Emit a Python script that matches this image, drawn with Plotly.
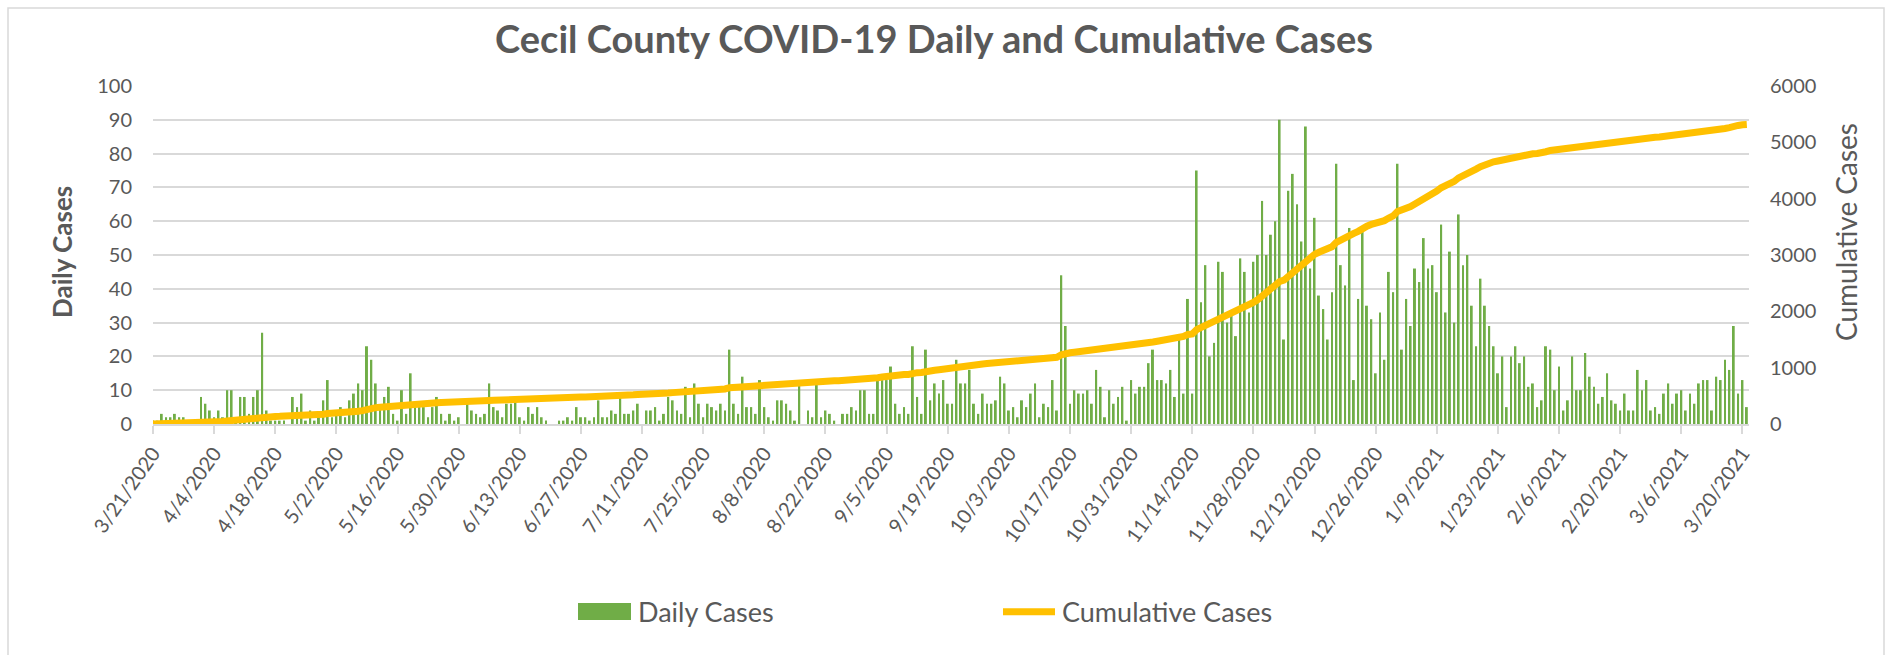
import plotly.graph_objects as go
import pandas as pd
from itertools import accumulate

# ---------------- data ----------------
start_date = "2020-03-21"

daily_cases = [
    1, 1, 3, 2, 2, 3, 2, 2, 1, 0, 1, 8, 6, 4, 2, 4, 2, 10, 10, 1, 8, 8, 3, 8, 10, 27,
    4, 1, 1, 1, 1, 0, 8, 5, 9, 1, 4, 1, 2, 7, 13, 2, 3, 5, 2, 7,
    9, 12, 10, 23, 19, 12, 5, 8, 11, 3, 1, 10, 3, 15, 5, 5, 5, 2, 5, 8, 3, 1, 3, 1, 2, 0,
    6, 4, 3, 2, 3, 12, 5, 4, 2, 6, 6, 7, 2, 1, 5, 3, 5, 2, 1,
    0, 0, 1, 1, 2, 1, 5, 2, 2, 1, 2, 7, 2, 2, 4, 3, 8, 3, 3, 4, 6, 0, 4, 4, 5, 1, 3, 8,
    7, 4, 3, 11, 2, 12, 6, 2, 6, 5, 4, 6, 4, 22, 6, 3, 14, 5,
    5, 3, 13, 5, 2, 1, 7, 7, 6, 4, 1, 12, 0, 4, 2, 12, 2, 4, 3, 1, 0, 3, 3, 5, 4, 10, 10,
    3, 3, 13, 13, 13, 17, 6, 3, 5, 3, 23, 8, 3, 22, 7, 12, 9, 13, 6,
    6, 19, 12, 12, 16, 6, 3, 9, 6, 6, 7, 14, 12, 4, 5, 2, 7, 5, 9, 12, 2, 6, 5, 13, 4, 44,
    29, 6, 10, 9, 9, 10, 6, 16, 11, 2, 10, 6, 8, 11, 1, 13, 9, 11, 11, 18,
    22, 13, 13, 12, 16, 8, 25, 9, 37, 9, 75, 36, 47, 20, 24, 48, 45, 30, 32, 26, 49, 45,
    33, 48, 50, 66, 50, 56, 60, 90, 25, 69, 74, 65, 54, 88, 46, 61, 38, 34, 25, 39, 77, 47, 41, 58,
    13, 37, 57, 35, 31, 15, 33, 19, 45, 39, 77, 22, 37, 29, 46, 42, 55, 46, 47, 39, 59, 33,
    51, 30, 62, 47, 50, 35, 23, 43, 35, 29, 23, 15, 20, 5, 20, 23, 18, 20, 11, 12, 5, 7, 23,
    22, 10, 17, 4, 7, 20, 10, 10, 21, 14, 11, 6, 8, 15, 7, 6, 4, 9, 4, 4, 16, 10, 13, 4,
    5, 3, 9, 12, 6, 9, 10, 4, 9, 6, 12, 13, 13, 4, 14, 13, 19, 16, 29, 9, 13, 5,
]

tick_labels = [
    "3/21/2020", "4/4/2020", "4/18/2020", "5/2/2020", "5/16/2020", "5/30/2020",
    "6/13/2020", "6/27/2020", "7/11/2020", "7/25/2020", "8/8/2020", "8/22/2020",
    "9/5/2020", "9/19/2020", "10/3/2020", "10/17/2020", "10/31/2020", "11/14/2020",
    "11/28/2020", "12/12/2020", "12/26/2020", "1/9/2021", "1/23/2021", "2/6/2021",
    "2/20/2021", "3/6/2021", "3/20/2021",
]
left_ticks = list(range(0, 101, 10))
right_ticks = list(range(0, 6001, 1000))

title_text = "Cecil County COVID-19 Daily and Cumulative Cases"
left_title = "Daily Cases"
right_title = "Cumulative Cases"
bar_name = "Daily Cases"
line_name = "Cumulative Cases"

dates = pd.date_range(start_date, periods=len(daily_cases), freq="D")
cumulative_cases = list(accumulate(daily_cases))
tick_dates = pd.to_datetime(tick_labels, format="%m/%d/%Y")

# ---------------- layout geometry (pixels) ----------------
W, H = 1892, 655
PL, PR, PT, PB = 153, 1749, 86, 424
PW, PH = PR - PL, PB - PT


def px_x(x):
    return (x - PL) / PW


def px_y(y):
    return (PB - y) / PH


GRAY = "#595959"
GRID = "#D9D9D9"
GREEN = "#70AD47"
GOLD = "#FFC000"
FONT = "Lato, 'Open Sans', sans-serif"

fig = go.Figure()
fig.add_trace(go.Bar(x=dates, y=daily_cases, name=bar_name,
                     marker=dict(color=GREEN, line=dict(width=0)), yaxis="y"))
fig.add_trace(go.Scatter(x=dates, y=cumulative_cases, name=line_name, mode="lines",
                         line=dict(color=GOLD, width=7), yaxis="y2"))

fig.update_layout(
    width=W, height=H, autosize=False,
    margin=dict(l=PL, r=W - PR, t=PT, b=H - PB, pad=0),
    paper_bgcolor="white", plot_bgcolor="white",
    showlegend=False,
    bargap=0.55,
    font=dict(family=FONT, color=GRAY, size=20),
    title=dict(text="<b>" + title_text + "</b>", xref="container", yref="container",
               x=934 / W, y=1 - 40 / H, xanchor="center", yanchor="middle",
               font=dict(size=38, color=GRAY, family=FONT)),
    xaxis=dict(type="date", range=["2020-03-21 00:00", "2021-03-21 12:00"],
               tickmode="array", tickvals=tick_dates, ticktext=tick_labels,
               tickangle=-55, ticks="outside", ticklen=8, tickcolor=GRID, tickwidth=1.5,
               showline=True, linecolor=GRID, linewidth=1.5, showgrid=False,
               zeroline=False, tickfont=dict(size=20, color=GRAY)),
    yaxis=dict(range=[0, 100], tickmode="array", tickvals=left_ticks,
               showgrid=True, gridcolor=GRID, gridwidth=1.5, zeroline=False,
               showline=False, ticks="", ticklabelstandoff=20,
               tickfont=dict(size=20, color=GRAY)),
    yaxis2=dict(range=[0, 6000], overlaying="y", side="right", tickmode="array",
                tickvals=right_ticks, showgrid=False, zeroline=False, showline=False,
                ticks="", ticklabelstandoff=20, tickfont=dict(size=20, color=GRAY)),
)

# axis titles
fig.add_annotation(x=px_x(62), y=px_y(252), xref="paper", yref="paper",
                   text="<b>" + left_title + "</b>", textangle=-90, showarrow=False,
                   xanchor="center", yanchor="middle",
                   font=dict(size=26, color=GRAY, family=FONT))
fig.add_annotation(x=px_x(1846), y=px_y(232), xref="paper", yref="paper",
                   text=right_title, textangle=-90, showarrow=False,
                   xanchor="center", yanchor="middle",
                   font=dict(size=28, color=GRAY, family=FONT))

# outer chart border
fig.add_shape(type="rect", xref="paper", yref="paper",
              x0=px_x(8), x1=px_x(1884), y0=px_y(670), y1=px_y(8),
              line=dict(color=GRID, width=1.5), fillcolor="rgba(0,0,0,0)", layer="below")

# custom legend
fig.add_shape(type="rect", xref="paper", yref="paper",
              x0=px_x(578), x1=px_x(631), y0=px_y(620), y1=px_y(603),
              line=dict(width=0), fillcolor=GREEN)
fig.add_annotation(x=px_x(636), y=px_y(611.5), xref="paper", yref="paper",
                   text=bar_name, showarrow=False, xanchor="left", yanchor="middle",
                   font=dict(size=27, color=GRAY, family=FONT))
fig.add_shape(type="line", xref="paper", yref="paper",
              x0=px_x(1003), x1=px_x(1055), y0=px_y(611.7), y1=px_y(611.7),
              line=dict(color=GOLD, width=7))
fig.add_annotation(x=px_x(1060), y=px_y(611.5), xref="paper", yref="paper",
                   text=line_name, showarrow=False, xanchor="left", yanchor="middle",
                   font=dict(size=27, color=GRAY, family=FONT))

fig.write_html("out.html", config={"displayModeBar": False},
               post_script="document.body.style.margin='0';document.body.style.overflow='hidden';")
